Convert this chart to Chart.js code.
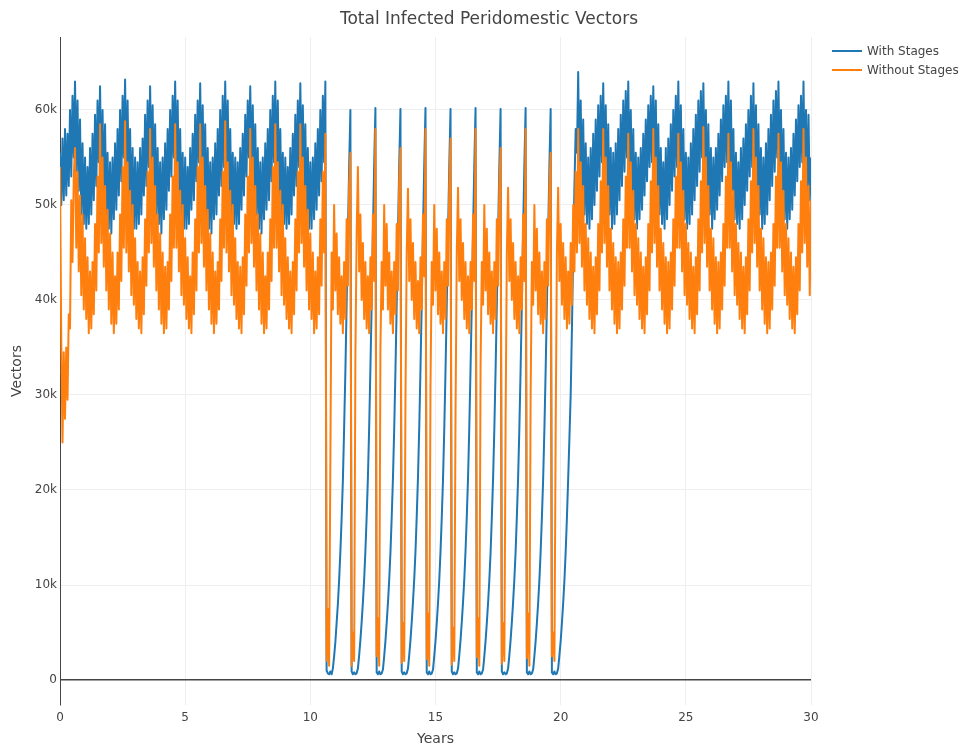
<!DOCTYPE html>
<html>
<head>
<meta charset="utf-8">
<script src="https://cdn.jsdelivr.net/npm/chart.js@4.4.1/dist/chart.umd.min.js"></script>
<style>
html,body{margin:0;padding:0;background:#fff;}
#wrap{position:relative;width:967px;height:750px;font-family:"DejaVu Sans",Verdana,sans-serif;color:#444;}
#title{position:absolute;top:7px;left:489px;transform:translateX(-50%);font-size:17px;line-height:22px;white-space:nowrap;}
.leg{position:absolute;left:832px;font-size:12px;height:16px;line-height:16px;white-space:nowrap;}
.leg .sw{display:inline-block;width:30px;height:2px;vertical-align:middle;margin-right:5px;position:relative;top:-1px;}
canvas{position:absolute;left:0;top:0;}
</style>
</head>
<body>
<div id="wrap">
  <canvas id="c" width="967" height="750"></canvas>
  <div id="title">Total Infected Peridomestic Vectors</div>
  <div class="leg" style="top:43px"><span class="sw" style="background:#1f77b4"></span>With Stages</div>
  <div class="leg" style="top:62px"><span class="sw" style="background:#ff7f0e"></span>Without Stages</div>
</div>
<script>
// sampling interval of the series (years)
const STEP = 0.05;
const xTicks = [0, 5, 10, 15, 20, 25, 30];
const yTicks = [0, 10, 20, 30, 40, 50, 60]; // thousands of vectors

// With Stages (thousands), one row per year, 20 samples per year
const withStagesK = [
  55.5, 50, 57, 50.5, 58, 51, 57.5, 52, 60, 53, 61.5, 55, 63, 53.5, 61, 51.5, 59, 49, 56.5, 48,
  55, 47.5, 54, 48, 56, 49, 57.5, 50.5, 59.5, 52, 61, 54.5, 62.5, 52.5, 60, 51, 58.5, 49, 55.5, 47.5,
  54.5, 47, 55, 48.5, 56.5, 49.5, 58, 51, 60, 52.5, 61.5, 55, 63.2, 53, 61, 51, 58, 48.5, 56, 47.5,
  55, 47.5, 54.5, 48, 56, 49, 57, 51, 59.5, 52, 61, 54, 62.5, 53.5, 60.5, 51.5, 58.5, 49, 56, 48,
  54.5, 47, 55, 48.5, 56.5, 49.5, 58, 51.5, 60, 53, 61.5, 55, 63, 53, 61, 51, 58, 49, 55.5, 47.5,
  55, 47.5, 54, 48, 56, 49.5, 57.5, 50.5, 59.5, 52.5, 61, 54.5, 62.8, 52.5, 60.5, 51.5, 58.5, 48.5, 56, 47.5,
  54.5, 47, 55, 48.5, 56.5, 49, 58, 51, 60, 52, 61.5, 54, 63, 53.5, 61, 51, 58, 49, 55.5, 48,
  55, 47.5, 54.5, 48, 56, 49.5, 57.5, 51, 59.5, 53, 61, 55, 62.5, 53, 60.5, 51.5, 58.5, 49, 56, 47.5,
  54.5, 47, 55, 48.5, 56.5, 49.5, 58, 50.5, 60, 52.5, 61.5, 54.5, 63, 52.5, 61, 51, 58, 48.5, 55.5, 48,
  55, 47.5, 54, 48, 56, 49, 57.5, 51, 59.5, 52, 61, 54, 62.8, 53.5, 60.5, 51.5, 58.5, 49, 56, 47.5,
  54.5, 47.5, 55, 48.5, 56.5, 49.5, 58, 51, 60, 52.5, 61.5, 54.5, 63, 1.0, 0.7, 0.6, 0.9, 0.6, 1.2, 2.5,
  4.0, 6.0, 8.0, 10.5, 13.5, 17.0, 21.0, 26.5, 32.5, 39.5, 47.0, 54.0, 60.0, 0.9, 0.6, 0.8, 0.6, 0.7, 1.2, 2.6,
  4.2, 6.1, 8.2, 10.6, 13.6, 17.2, 21.3, 26.6, 32.8, 39.6, 47.2, 54.2, 60.2, 0.8, 0.6, 0.9, 0.6, 0.7, 1.1, 2.5,
  4.1, 6.0, 8.1, 10.5, 13.4, 17.1, 21.2, 26.4, 32.6, 39.5, 47.1, 54.1, 60.1, 0.9, 0.6, 0.8, 0.6, 0.7, 1.2, 2.6,
  4.2, 6.1, 8.2, 10.6, 13.5, 17.2, 21.3, 26.5, 32.7, 39.7, 47.3, 54.2, 60.2, 0.8, 0.6, 0.9, 0.6, 0.7, 1.1, 2.5,
  4.1, 6.0, 8.1, 10.5, 13.5, 17.1, 21.1, 26.4, 32.6, 39.5, 47.0, 54.1, 60.1, 0.9, 0.6, 0.8, 0.6, 0.7, 1.2, 2.6,
  4.2, 6.1, 8.2, 10.6, 13.6, 17.2, 21.3, 26.6, 32.8, 39.6, 47.2, 54.2, 60.2, 0.8, 0.6, 0.9, 0.6, 0.7, 1.1, 2.5,
  4.1, 6.0, 8.1, 10.5, 13.4, 17.1, 21.2, 26.4, 32.6, 39.5, 47.1, 54.1, 60.1, 0.9, 0.6, 0.8, 0.6, 0.7, 1.2, 2.6,
  4.2, 6.1, 8.2, 10.6, 13.5, 17.2, 21.3, 26.5, 32.7, 39.7, 47.3, 54.2, 60.2, 0.8, 0.6, 0.9, 0.6, 0.7, 1.1, 2.5,
  4.1, 6.0, 8.1, 10.5, 13.5, 17.1, 21.1, 26.4, 32.6, 39.5, 47.0, 54.1, 60.1, 0.8, 0.6, 0.9, 0.6, 0.7, 1.2, 2.6,
  4.1, 6.0, 8.1, 10.5, 13.5, 17.1, 21.2, 25.5, 30.0, 37.0, 45.0, 52.0, 58.0, 55.5, 64.0, 53.0, 61.0, 51.5, 59.0, 49.0,
  56.5, 48, 55, 47.5, 56, 48.5, 57.5, 50, 59, 51.5, 60.5, 53, 61.5, 54.5, 62.8, 53, 60.5, 51, 58.5, 49,
  56, 47.5, 55.5, 48, 56.5, 49, 58, 50.5, 59.5, 52, 61, 53.5, 62, 55, 63, 52.5, 60, 50.5, 58, 48.5,
  55.5, 47.5, 55, 48.5, 56, 49.5, 57.5, 51, 59, 52.5, 60.5, 54, 61.5, 54.5, 62.5, 53.5, 61, 51.5, 58.5, 49,
  56, 48, 54.5, 47.5, 56, 48.5, 57, 50, 58.5, 51.5, 60, 53, 61.5, 54, 63, 52.5, 60.5, 50.5, 58, 48.5,
  55.5, 47.5, 55, 48, 56.5, 49, 58, 50.5, 59.5, 52, 61, 53.5, 62, 55, 62.8, 53, 60, 51, 58.5, 49,
  56, 47.5, 55, 48.5, 56, 49.5, 57.5, 51, 59, 52.5, 60.5, 54, 61.5, 54.5, 63, 53.5, 61, 51.5, 58, 48.5,
  55.5, 48, 54.5, 47.5, 56, 48.5, 57, 50, 58.5, 51.5, 60, 53, 61.5, 54, 62.8, 52.5, 60.5, 50.5, 58.5, 49,
  56, 47.5, 55, 48, 56.5, 49, 58, 50.5, 59.5, 52, 61, 53.5, 62, 55, 63, 53, 60, 51, 58, 48.5,
  55.5, 47.5, 55, 48.5, 56, 49.5, 57.5, 51, 59, 52.5, 60.5, 54, 61.5, 54.5, 63, 53, 60, 51, 59.5, 50.5,
  55
];

// Without Stages (thousands), one row per year, 20 samples per year
const withoutStagesK = [
  54, 36, 25, 34.5, 27.5, 35, 29.5, 38.5, 37, 50.5, 44, 53, 56, 45.5, 53.5, 43, 51, 40.5, 49, 39,
  46.5, 38, 44.5, 36.5, 43, 37, 44, 38.5, 48, 41, 53, 45, 58.5, 46, 55, 43.5, 52, 41, 49.5, 39,
  47, 37.5, 45, 36.5, 42.5, 37.5, 45, 39, 49, 42, 54, 45.5, 58.8, 45, 54.5, 43, 51.5, 40.5, 50, 39.5,
  46.5, 38, 44, 37, 43, 36.5, 44.5, 38.5, 48.5, 41.5, 53.5, 45, 58, 46, 55, 43.5, 52, 41, 49, 39,
  47, 37.5, 45, 36.5, 43.5, 37, 44, 39, 49, 42, 53, 45.5, 58.5, 45.5, 54.5, 43, 51.5, 40.5, 50, 39.5,
  46.5, 38, 44.5, 37, 42.5, 36.5, 45, 38.5, 48.5, 41, 54, 45, 58.5, 46, 55, 43.5, 52, 41, 49.5, 39,
  47, 37.5, 45, 36.5, 43, 37.5, 44, 39, 48.5, 42, 53.5, 45.5, 58.8, 45, 54.5, 43, 51.5, 40.5, 50, 39.5,
  46.5, 38, 44, 37, 43.5, 36.5, 44.5, 38.5, 49, 41.5, 53, 45, 58, 46, 55, 43.5, 52, 41, 49, 39,
  47, 37.5, 45, 36.5, 42.5, 37, 45, 39, 48.5, 42, 54, 45.5, 58.5, 45.5, 54.5, 43, 51.5, 40.5, 50, 39.5,
  46.5, 38, 44.5, 37, 43, 36.5, 44, 38.5, 48.5, 41, 53.5, 45, 58.5, 46, 55, 43.5, 52, 41, 49.5, 39,
  47, 38, 45, 36.5, 43, 37, 44.5, 38.5, 48.5, 41.5, 53.5, 45, 57.5, 2, 7.5, 1.5, 23, 45, 39, 50,
  41, 47, 38.5, 44.5, 37.5, 42.5, 36.5, 44, 38, 48.5, 41.5, 52, 55.5, 1.5, 5, 2, 34, 47, 54, 43,
  49, 40, 46, 38, 44, 37, 42.5, 36.5, 44.5, 39, 49, 42, 58, 2.5, 6.5, 1.5, 35, 44, 39, 50,
  41.5, 48, 39, 45, 37.5, 43, 36.5, 44, 38.5, 48, 41, 52.5, 56, 1.8, 6, 2, 29.5, 45, 51.7, 42,
  48.5, 40, 46, 38, 44, 37, 42, 36.5, 44.5, 39, 49, 42.5, 58, 2.2, 7, 1.5, 31, 44, 39.5, 50,
  41, 47.5, 38.5, 45, 37.5, 43, 36.5, 44, 38, 48.5, 41.5, 52, 57, 1.6, 5.5, 2, 28, 45, 51.8, 42,
  48.5, 40, 46, 38, 44, 37, 42.5, 36.5, 44, 39, 49, 42, 58, 2.4, 6.5, 1.5, 33, 44, 39.5, 50,
  41, 47.5, 38.5, 45, 37.5, 43, 36.5, 44, 38, 48.5, 41.5, 52, 56, 1.7, 6, 2, 27, 45, 51.8, 42,
  48.5, 40, 46, 38, 44, 37, 42.5, 36.5, 44.5, 39, 49, 42, 58, 2.3, 7, 1.5, 30, 44, 39.5, 50,
  41, 47.5, 38.5, 45, 37.5, 43, 36.5, 44, 38, 48.5, 41.5, 52, 55.5, 2.5, 5, 2, 26, 45, 51.8, 42,
  48, 39.5, 46, 38, 44.5, 37, 43, 37.5, 46, 39.5, 50, 43, 53.5, 45, 58, 46, 54.5, 43.5, 52, 41,
  48, 39.5, 46.5, 38, 45, 37, 43.5, 36.5, 44.5, 38.5, 48, 41, 52.5, 45, 58, 46, 55, 43.5, 52, 41,
  47.5, 39, 46, 37.5, 44.5, 36.5, 44, 37, 45, 39, 48.5, 41.5, 53, 45.5, 57.5, 45.5, 54.5, 43, 51.5, 40.5,
  48, 39.5, 46.5, 38, 45, 37, 43.5, 36.5, 44.5, 38.5, 48, 41, 52.5, 45, 58, 46, 55, 43.5, 52, 41,
  47.5, 39, 46, 37.5, 44.5, 36.5, 44, 37, 45, 39, 48.5, 41.5, 53, 45.5, 57.5, 45.5, 54.5, 43, 51.5, 40.5,
  48, 39.5, 46, 38, 45, 37, 43.5, 36.5, 44.5, 38.5, 48.5, 41, 52.5, 45, 58.2, 46, 55, 43.5, 52, 41,
  47.5, 39, 46.5, 37.5, 44.5, 36.5, 44, 37, 45, 39, 48, 41.5, 53, 45.5, 57.5, 45.5, 54.5, 43, 51.5, 40.5,
  48, 39.5, 46, 38, 45, 37, 43.5, 36.5, 44.5, 38.5, 48.5, 41, 52.5, 45, 58, 46, 55, 43.5, 52, 41,
  47.5, 39, 46.5, 37.5, 44.5, 36.5, 44, 37, 45, 39, 48, 41.5, 53, 45.5, 57.5, 45.5, 54.5, 43, 51.5, 40.5,
  48, 39.5, 46.5, 38, 45, 37, 43.5, 36.5, 44.5, 38.5, 48, 41, 52.5, 45, 58, 46, 55, 43.5, 52, 40.5,
  50.5
];

const toPoints = arr => arr.map((v, i) => ({x: i * STEP, y: v}));
const FONT = 'DejaVu Sans';

new Chart(document.getElementById('c'), {
  type: 'line',
  data: {
    datasets: [
      {label: 'With Stages', data: toPoints(withStagesK), borderColor: '#1f77b4', borderWidth: 2,
       pointRadius: 0, fill: false, tension: 0, borderJoinStyle: 'round', order: 1},
      {label: 'Without Stages', data: toPoints(withoutStagesK), borderColor: '#ff7f0e', borderWidth: 2,
       pointRadius: 0, fill: false, tension: 0, borderJoinStyle: 'round', order: 0}
    ]
  },
  options: {
    responsive: false,
    animation: false,
    events: [],
    layout: {padding: {left: 0, right: 156, top: 37, bottom: 0}},
    plugins: {legend: {display: false}, title: {display: false}, tooltip: {enabled: false}},
    scales: {
      x: {
        type: 'linear', min: 0, max: 30,
        afterBuildTicks: s => { s.ticks = xTicks.map(v => ({value: v})); },
        afterFit: s => { s.height = 45; },
        grid: {color: '#eeeeee', lineWidth: 1, drawTicks: false},
        border: {display: false},
        ticks: {padding: 6, color: '#444', maxRotation: 0, font: {family: FONT, size: 12}},
        title: {display: true, text: 'Years', color: '#444', font: {family: FONT, size: 14}, padding: {top: 0, bottom: 2}}
      },
      y: {
        type: 'linear', min: -2.63, max: 67.68,
        afterBuildTicks: s => { s.ticks = yTicks.map(v => ({value: v})); },
        afterFit: s => { s.width = 60; },
        grid: {
          color: c => (c.tick && c.tick.value === 0) ? '#444444' : '#eeeeee',
          lineWidth: c => (c.tick && c.tick.value === 0) ? 1.5 : 1,
          drawTicks: false
        },
        border: {display: true, color: '#444444', width: 1},
        ticks: {padding: 3, color: '#444', font: {family: FONT, size: 12},
                callback: v => v === 0 ? '0' : v + 'k'},
        title: {display: true, text: 'Vectors', color: '#444', font: {family: FONT, size: 14}, padding: {top: 9, bottom: 0}}
      }
    }
  }
});
</script>
</body>
</html>
